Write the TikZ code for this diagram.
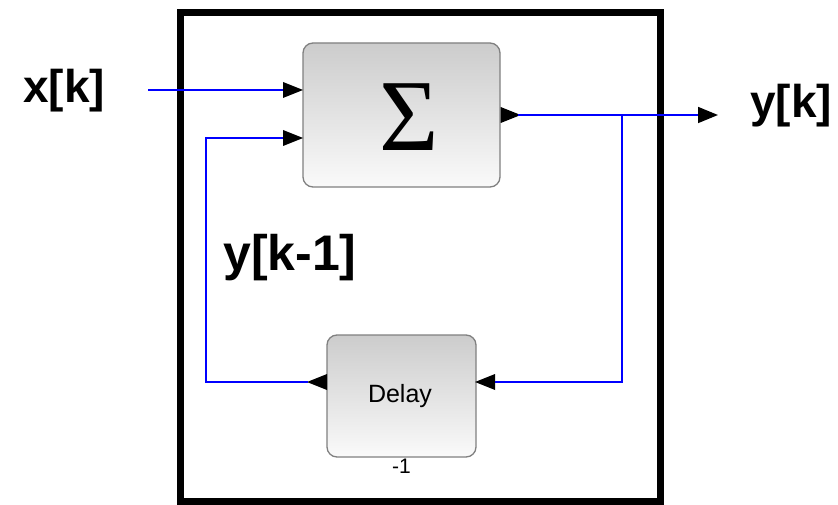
\documentclass[tikz,border=0pt]{standalone}
\usepackage{fontspec}
\setmainfont{Liberation Sans}
\newfontfamily\sigmafont{Liberation Serif}
\usetikzlibrary{arrows.meta}
\tikzset{
  blockbox/.style={draw=black!50, line width=1.3pt, rounded corners=10pt,
    top color=black!20, bottom color=black!2, inner sep=0pt},
  sig/.style={draw=blue, line width=1.6pt},
  frame/.style={draw=black, line width=7pt},
  biglabel/.style={anchor=base west, inner sep=0pt, font=\fontsize{46}{50}\selectfont\bfseries},
  pics/portR/.style={code={\fill[black] (0,-8) -- (20,0) -- (0,8) -- cycle;}},
  pics/portL/.style={code={\fill[black] (0,-8) -- (-20,0) -- (0,8) -- cycle;}}
}
\begin{document}
\begin{tikzpicture}[x=1pt,y=-1pt]
\useasboundingbox (0,0) rectangle (838,505);
\fill[white] (0,0) rectangle (838,505);
\draw[frame] (180,13) rectangle (660,501);
% blocks
\node[blockbox, minimum width=197pt, minimum height=144pt] (sum) at (401.5,115) {};
\node[font=\sigmafont\fontsize{102}{102}\selectfont] (sigma) at (409,117) {\char"03A3};
\node[blockbox, minimum width=149pt, minimum height=122pt] (delay) at (401.5,396) {};
\node[font=\fontsize{25}{27}\selectfont] (dtext) at (400,396) {Delay};
\node[font=\fontsize{21}{23}\selectfont, anchor=north, inner sep=1pt] (dexp) at (delay.south) {-1};
% port coordinates
\coordinate (in1) at (283,90);
\coordinate (in2) at (283,138);
\coordinate (sout) at (518,115);
\coordinate (din) at (495,382);
\coordinate (dportl) at (327,382);
\coordinate (dout) at (308,382);
\coordinate (xstart) at (148,90);
\coordinate (yend) at (718,115);
\coordinate (branch) at (622,115);
% ports
\pic at (in1) {portR};
\pic at (in2) {portR};
\pic at (sum.east) {portR};
\pic at (din) {portL};
\pic at (dportl) {portL};
% signals
\draw[sig] (xstart) -- (in1);
\draw[sig, -{Triangle[length=20pt,width=16pt,color=black]}] (sout) -- (yend);
\draw[sig] (branch) |- (din);
\draw[sig] (dout) -| (206,138) -- (in2);
% labels
\node[biglabel] (xl) at (23,103) {x[k]};
\node[biglabel] (yl) at (750,118) {y[k]};
\node[biglabel, font=\fontsize{50}{54}\selectfont\bfseries] (yl1) at (223,270) {y[k-1]};
\end{tikzpicture}
\end{document}
